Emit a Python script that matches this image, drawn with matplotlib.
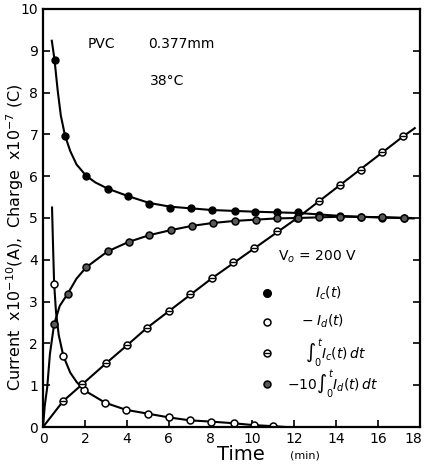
import matplotlib
matplotlib.use("Agg")
import matplotlib.pyplot as plt
import matplotlib.transforms as mtransforms

# I_c(t): filled dots (x10^-10 A)
ic_t = [0.55, 1.05, 2.06, 3.1, 4.08, 5.07, 6.08, 7.08, 8.07, 9.15, 10.14, 11.15, 12.17, 13.17, 14.2, 15.17, 16.2, 17.24]
ic_v = [8.78, 6.97, 6.01, 5.70, 5.52, 5.33, 5.25, 5.23, 5.18, 5.17, 5.15, 5.15, 5.15, 5.07, 5.05, 5.03, 5.01, 4.99]
ic_curve_t = [0.42, 0.55, 0.7, 0.85, 1.05, 1.3, 1.6, 2.06, 2.5, 3.1, 4.08, 5.07, 6.08, 8.07, 10.14, 12.17, 14.2, 16.2, 17.7]
ic_curve_v = [9.24, 8.78, 8.05, 7.45, 6.97, 6.6, 6.28, 6.01, 5.85, 5.70, 5.52, 5.36, 5.27, 5.19, 5.15, 5.12, 5.05, 5.01, 4.99]

# -I_d(t): open circles (x10^-10 A)
id_t = [0.53, 0.97, 1.96, 2.97, 3.97, 5.0, 6.0, 7.0, 8.0, 9.1, 10.06, 11.0]
id_v = [3.43, 1.70, 0.88, 0.58, 0.41, 0.32, 0.23, 0.16, 0.13, 0.09, 0.045, 0.02]
id_curve_t = [0.43, 0.48, 0.53, 0.62, 0.75, 0.97, 1.3, 1.6, 1.96, 2.5, 2.97, 3.97, 5.0, 6.0, 7.0, 8.0, 9.1, 10.06, 11.0, 11.6]
id_curve_v = [5.25, 4.3, 3.43, 2.75, 2.2, 1.70, 1.3, 1.08, 0.88, 0.72, 0.58, 0.41, 0.32, 0.23, 0.16, 0.13, 0.09, 0.045, 0.02, 0.0]

# integral of I_c (x10^-7 C)
qc_t = [0.96, 1.87, 3.0, 4.0, 4.96, 6.0, 7.0, 8.07, 9.06, 10.06, 11.15, 12.14, 13.17, 14.18, 15.17, 16.2, 17.19]
qc_v = [0.62, 1.02, 1.52, 1.95, 2.37, 2.77, 3.17, 3.56, 3.94, 4.29, 4.68, 5.0, 5.41, 5.79, 6.15, 6.57, 6.95]
qc_curve_t = [0.0, 0.96, 1.87, 3.0, 4.0, 4.96, 8.07, 12.14, 17.19, 17.75]
qc_curve_v = [0.0, 0.62, 1.02, 1.52, 1.95, 2.37, 3.56, 5.0, 6.95, 7.15]

# -10 x integral of I_d (x10^-7 C)
qd_t = [0.53, 1.18, 2.06, 3.08, 4.1, 5.08, 6.1, 7.1, 8.1, 9.15, 10.15, 11.15, 12.15, 13.2, 14.2, 15.2, 16.2, 17.25]
qd_v = [2.46, 3.19, 3.82, 4.20, 4.43, 4.59, 4.71, 4.81, 4.88, 4.93, 4.96, 4.99, 5.0, 5.02, 5.03, 5.03, 5.03, 5.0]
qd_curve_t = [0.0, 0.08, 0.2, 0.33, 0.53, 0.8, 1.18, 1.6, 2.06, 3.08, 4.1, 5.08, 6.1, 7.1, 8.1, 9.15, 10.15, 11.15, 12.15, 14.2, 16.2, 17.6]
qd_curve_v = [0.0, 0.5, 0.95, 1.75, 2.46, 2.9, 3.19, 3.55, 3.82, 4.20, 4.43, 4.59, 4.71, 4.81, 4.88, 4.93, 4.96, 4.99, 5.0, 5.03, 5.02, 5.0]

x_ticks = [0, 2, 4, 6, 8, 10, 12, 14, 16, 18]
y_ticks = [0, 1, 2, 3, 4, 5, 6, 7, 8, 9, 10]

fig = plt.figure(figsize=(4.26, 4.65), dpi=100)
fig.patch.set_facecolor("white")
ax = fig.add_axes([0.101, 0.0817, 0.885, 0.899])

lw = 1.5
ms = 5
ax.plot(ic_curve_t, ic_curve_v, color="black", lw=lw)
ax.plot(id_curve_t, id_curve_v, color="black", lw=lw)
ax.plot(qc_curve_t, qc_curve_v, color="black", lw=lw)
ax.plot(qd_curve_t, qd_curve_v, color="black", lw=lw)

ax.plot(ic_t, ic_v, "o", ms=ms, mfc="black", mec="black")
ax.plot(id_t, id_v, "o", ms=ms, mfc="white", mec="black", mew=1.1)
ax.plot(qc_t, qc_v, "o", ms=ms, mfc="white", mec="black", mew=1.1)
ax.plot(qc_t, qc_v, "_", ms=ms - 1, color="black", mew=1.0)
ax.plot(qd_t, qd_v, "o", ms=ms, mfc="0.35", mec="black", mew=1.1)

# legend drawn by hand
leg_x = 10.67
ax.plot([leg_x], [3.21], "o", ms=ms + 0.5, mfc="black", mec="black")
ax.plot([leg_x], [2.52], "o", ms=ms, mfc="white", mec="black", mew=1.1)
ax.plot([leg_x], [1.78], "o", ms=ms, mfc="white", mec="black", mew=1.1)
ax.plot([leg_x], [1.78], "_", ms=ms - 1, color="black", mew=1.0)
ax.plot([leg_x], [1.03], "o", ms=ms, mfc="0.35", mec="black", mew=1.1)

ax.text(13.0, 3.21, r"$I_c(t)$", fontsize=10, va="center", ha="left")
ax.text(12.3, 2.52, r"$-\;I_d(t)$", fontsize=10, va="center", ha="left")
ax.text(12.5, 1.78, r"$\int_0^t I_c(t)\,dt$", fontsize=10, va="center", ha="left")
ax.text(11.65, 1.03, r"$-10\int_0^t I_d(t)\,dt$", fontsize=10, va="center", ha="left")

ax.text(11.2, 4.06, r"V$_o$ = 200 V", fontsize=10, va="center", ha="left")
ax.text(2.15, 9.17, "PVC", fontsize=10, va="center", ha="left")
ax.text(5.0, 9.17, "0.377mm", fontsize=10, va="center", ha="left")
ax.text(5.1, 8.28, "38°C", fontsize=10, va="center", ha="left")

ax.set_xlim(0, 18)
ax.set_ylim(0, 10)
ax.set_xticks(x_ticks)
ax.set_yticks(y_ticks)
ax.tick_params(direction="in", length=5, width=1.2, labelsize=10, right=True)
for spine in ax.spines.values():
    spine.set_linewidth(1.6)

# nudge the last x label inward so it stays inside the canvas
last = ax.get_xticklabels()[-1]
last.set_transform(last.get_transform() + mtransforms.ScaledTranslation(-5 / 72, 0, fig.dpi_scale_trans))

fig.text(0.035, 0.49, r"Current  x10$^{-10}$(A),  Charge  x10$^{-7}$ (C)",
         rotation=90, fontsize=11.5, ha="center", va="center")
fig.text(0.565, 0.022, "Time", fontsize=14, ha="center", va="center")
fig.text(0.715, 0.02, "(min)", fontsize=8, ha="center", va="center")

fig.savefig("out.png", dpi=100)
